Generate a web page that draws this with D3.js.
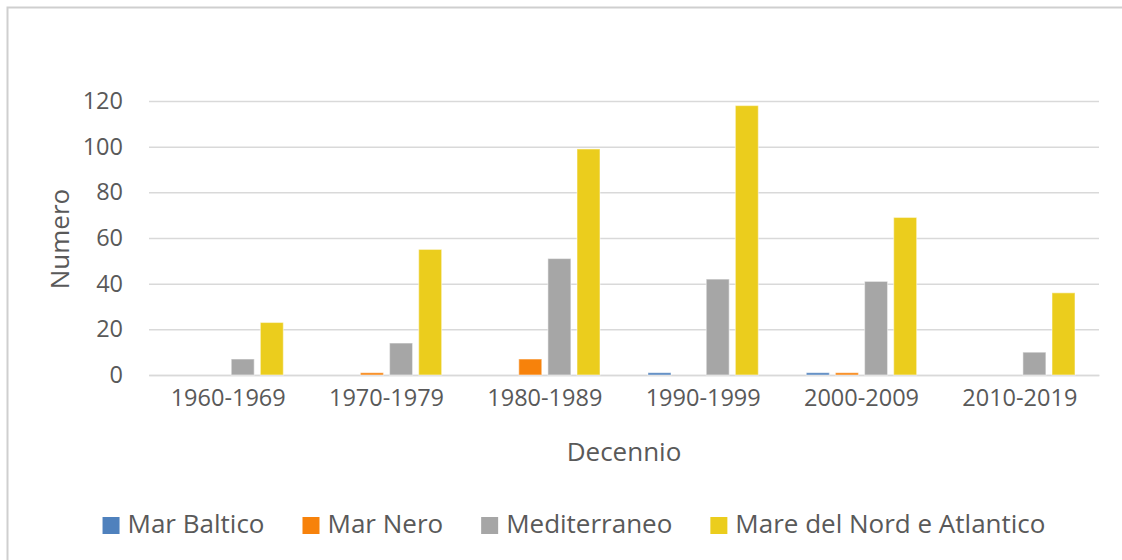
<!DOCTYPE html>
<html>
<head>
<meta charset="utf-8">
<script src="https://cdn.jsdelivr.net/npm/d3@7"></script>
<style>
  html, body { margin: 0; padding: 0; background: #fff; overflow: hidden; }
  svg { display: block; }
  text { font-family: "Open Sans", "Liberation Sans", sans-serif; fill: #595959; }
</style>
</head>
<body>
<svg width="1122" height="560"></svg>
<script>
  // DATA
  const decades = ["1960-1969", "1970-1979", "1980-1989", "1990-1999", "2000-2009", "2010-2019"];
  const seriesNames = ["Mar Baltico", "Mar Nero", "Mediterraneo", "Mare del Nord e Atlantico"];
  const marBaltico = [0, 0, 0, 1, 1, 0];
  const marNero = [0, 1, 7, 0, 1, 0];
  const mediterraneo = [7, 14, 51, 42, 41, 10];
  const mareNord = [23, 55, 99, 118, 69, 36];
  const yTicks = [0, 20, 40, 60, 80, 100, 120];
  const colors = ["#4f81bd", "#f7820b", "#a6a6a6", "#ebcd1d"];

  const seriesValues = [marBaltico, marNero, mediterraneo, mareNord];

  // SVG PARAMETERS
  const svg = d3.select("svg");
  const width = +svg.attr("width");
  const height = +svg.attr("height");

  // CHART FRAME (only top and left edges fall inside the picture)
  svg.append("path")
    .attr("d", `M7.5,${height} V7.5 H${width}`)
    .attr("fill", "none")
    .attr("stroke", "#cfcfcf")
    .attr("stroke-width", 2);

  // PLOT AREA
  const margin = { top: 101, right: 23, bottom: 185, left: 149 };
  const innerWidth = width - margin.left - margin.right;
  const innerHeight = height - margin.top - margin.bottom;

  const g = svg.append("g")
    .attr("transform", `translate(${margin.left},${margin.top})`);

  // SCALES
  const x0 = d3.scaleBand().domain(decades).range([0, innerWidth]);
  const outer = 24;
  const x1 = d3.scaleBand()
    .domain(seriesNames)
    .range([outer, x0.bandwidth() - outer])
    .paddingInner(0.21);
  const y = d3.scaleLinear().domain([0, 120]).range([innerHeight, 0]);

  // Y AXIS WITH GRIDLINES
  const yAxis = d3.axisLeft(y).tickValues(yTicks).tickSize(-innerWidth).tickPadding(26);
  const yAxisG = g.append("g").call(yAxis);
  yAxisG.select(".domain").remove();
  yAxisG.selectAll(".tick line").attr("stroke", "#d9d9d9").attr("stroke-width", 1.5);
  yAxisG.selectAll(".tick text")
    .attr("font-size", 23.5)
    .attr("fill", "#595959")
    .attr("font-family", null);

  // X AXIS
  const xAxis = d3.axisBottom(x0).tickSize(0).tickPadding(14);
  const xAxisG = g.append("g")
    .attr("transform", `translate(0,${innerHeight})`)
    .call(xAxis);
  xAxisG.select(".domain").attr("stroke", "#d9d9d9").attr("stroke-width", 1.5);
  xAxisG.selectAll(".tick text")
    .attr("font-size", 23.5)
    .attr("fill", "#595959")
    .attr("font-family", null);

  // BARS
  const rows = decades.map((d, i) => ({
    decade: d,
    values: seriesNames.map((s, j) => ({ series: s, value: seriesValues[j][i], color: colors[j] }))
  }));

  g.selectAll(".group")
    .data(rows)
    .enter()
    .append("g")
    .attr("class", "group")
    .attr("transform", (d) => `translate(${x0(d.decade)},0)`)
    .selectAll("rect")
    .data((d) => d.values.filter((v) => v.value > 0))
    .enter()
    .append("rect")
    .attr("x", (d) => x1(d.series))
    .attr("y", (d) => y(d.value))
    .attr("width", x1.bandwidth())
    .attr("height", (d) => innerHeight - y(d.value))
    .attr("fill", (d) => d.color)
    .attr("stroke", "#ffffff")
    .attr("stroke-opacity", 0.45)
    .attr("stroke-width", 1.2);

  // AXIS TITLES
  svg.append("text")
    .attr("transform", `translate(69,${margin.top + innerHeight / 2 + 1}) rotate(-90)`)
    .attr("text-anchor", "middle")
    .attr("font-size", 26)
    .text("Numero");

  svg.append("text")
    .attr("x", margin.left + innerWidth / 2)
    .attr("y", 461)
    .attr("text-anchor", "middle")
    .attr("font-size", 26)
    .text("Decennio");

  // LEGEND
  const legend = svg.append("g");
  const box = 17, boxGap = 8, itemGap = 38;
  let cursor = 0;
  seriesNames.forEach((s, i) => {
    const item = legend.append("g").attr("transform", `translate(${cursor},0)`);
    item.append("rect")
      .attr("x", 0).attr("y", -box)
      .attr("width", box).attr("height", box)
      .attr("fill", colors[i]);
    const t = item.append("text")
      .attr("x", box + boxGap)
      .attr("y", -1)
      .attr("font-size", 26)
      .text(s);
    cursor += box + boxGap + t.node().getComputedTextLength() + itemGap;
  });
  const legendWidth = cursor - itemGap;
  legend.attr("transform", `translate(${574 - legendWidth / 2},534)`);
</script>
</body>
</html>
